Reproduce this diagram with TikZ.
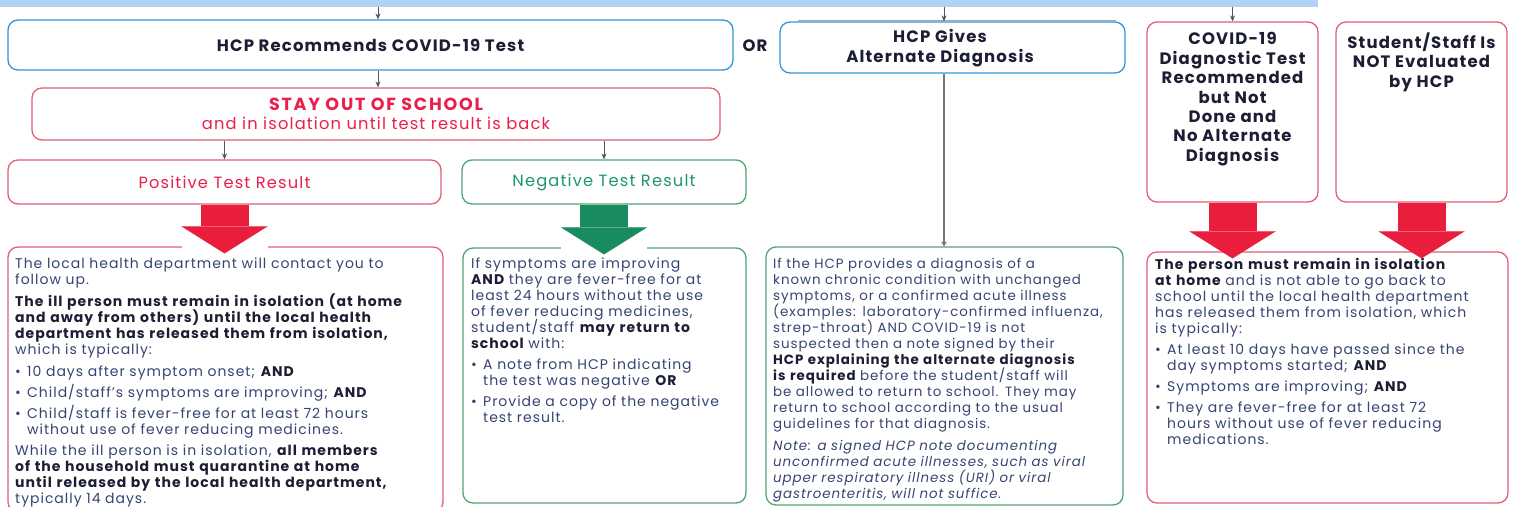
\documentclass[tikz,border=0pt]{standalone}
\usepackage{fontspec}
\setmainfont{Poppins}[LetterSpace=7]
\usetikzlibrary{positioning,arrows.meta}
\definecolor{bandblue}{RGB}{178,210,245}
\definecolor{hcpblue}{RGB}{45,150,225}
\definecolor{boxred}{RGB}{228,95,115}
\definecolor{boxgreen}{RGB}{80,165,115}
\definecolor{arrred}{RGB}{232,30,60}
\definecolor{arrgreen}{RGB}{25,140,95}
\definecolor{txtred}{RGB}{236,30,75}
\definecolor{txtgreen}{RGB}{30,150,115}
\definecolor{inkdark}{RGB}{28,30,52}
\definecolor{inkblue}{RGB}{55,68,115}
\definecolor{conngray}{RGB}{85,85,85}
\newcommand{\bodyfont}[1]{\fontsize{#1}{16}\selectfont\lineskiplimit=-20pt\relax}
\tikzset{
  box/.style={draw, rounded corners=10pt, line width=1.3pt, inner sep=0pt, align=center},
  bluebox/.style={box, draw=hcpblue},
  redbox/.style={box, draw=boxred},
  greenbox/.style={box, draw=boxgreen},
  title/.style={font=\fontsize{16.5}{19.4}\selectfont\bfseries, text=inkdark, align=center, inner sep=0pt},
  heading/.style={font=\fontsize{16.3}{19}\selectfont},
  body/.style={inner sep=0pt, align=left, anchor=north west, text width=440pt, text=inkblue, font=\bodyfont{14}},
  conn/.style={conngray, line width=0.8pt, -{Stealth[length=6pt,width=5pt]}},
  longconn/.style={conngray!80, line width=2pt, -{Stealth[length=5pt,width=6pt]}},
  bigarrow/.style={line width=48pt, -{Triangle[width=86pt,length=27pt,line width=0.01pt]}, shorten >=-7pt},
  arrowback/.style={white, line width=86pt, shorten >=-8pt}
}
\newcommand{\bd}[1]{\textbf{\color{inkdark}#1}}
\newcommand{\bul}{\makebox[12pt][l]{\textbullet}}
\newcommand{\hng}{\hspace*{12pt}}

\begin{document}
\begin{tikzpicture}[x=1pt,y=-1pt]
\useasboundingbox (0,0) rectangle (1514,506);
\fill[white] (0,0) rectangle (1514,506);
% band at the top and column guides
\node[fill=bandblue, inner sep=0pt, minimum width=1318pt, minimum height=7pt, anchor=north west] (band) at (0,0) {};
\coordinate (c1) at (378,0);
\coordinate (c2) at (944,0);
\draw[gray!70, line width=0.8pt] (798,20) -- (1116,20);

% first row
\node[bluebox, minimum width=725pt, minimum height=50pt] (rec) at (370.5,45) {};
\node[title] (rectxt) at (rec) {HCP Recommends COVID-19 Test};
\node[title] (or) at (755,46) {OR};
\node[bluebox, minimum width=345pt, minimum height=51pt] (gives) at (952.5,47.5) {};
\node[title] (givestxt) at (940,48) {HCP Gives\\Alternate Diagnosis};
\node[redbox, minimum width=171pt, minimum height=180pt] (diag) at (1232.5,112) {};
\node[title, below=11pt of diag.north] (diagtxt) {COVID-19\\Diagnostic Test\\Recommended\\but Not\\Done and\\No Alternate\\Diagnosis};
\node[redbox, minimum width=171pt, minimum height=180pt] (eval) at (1421.5,112) {};
\node[title, below=11pt of eval.north] (evaltxt) {Student/Staff Is\\NOT Evaluated\\by HCP};

% test result row
\node[redbox, minimum width=688pt, minimum height=52pt, text=txtred, heading] (stay) at (376,114) {{\fontsize{17.5}{19}\selectfont\addfontfeature{LetterSpace=10}\bfseries STAY OUT OF SCHOOL}\\and in isolation until test result is back};
\node[redbox, minimum width=433pt, minimum height=44pt, text=txtred, heading] (pos) at (224.5,182) {Positive Test Result};
\node[greenbox, minimum width=284pt, minimum height=44pt, text=txtgreen, heading] (neg) at (604,182) {Negative Test Result};

% bottom boxes
\node[redbox, minimum width=435pt, minimum height=265pt] (posinfo) at (225.5,379.5) {};
\node[greenbox, minimum width=283pt, minimum height=255pt] (neginfo) at (604.5,375.5) {};
\node[greenbox, minimum width=357pt, minimum height=258pt] (altinfo) at (944.5,376) {};
\node[redbox, minimum width=361pt, minimum height=251pt] (stayinfo) at (1327.5,377.5) {};

\node[body] (posbody) at (15,258) {The local health department will contact you to\\
follow up.\\[5.5pt]
\bd{The ill person must remain in isolation (at home}\\
\bd{and away from others) until the local health}\\
\bd{department has released them from isolation,}\\
which is typically:\\[6pt]
\bul 10 days after symptom onset; \bd{AND}\\[5pt]
\bul Child/staff's symptoms are improving; \bd{AND}\\[5pt]
\bul Child/staff is fever-free for at least 72 hours\\
\hng without use of fever reducing medicines.\\[5.5pt]
While the ill person is in isolation, \bd{all members}\\
\bd{of the household must quarantine at home}\\
\bd{until released by the local health department,}\\
typically 14 days.};
\node[body] (negbody) at (471,258) {If symptoms are improving\\
\bd{AND} they are fever-free for at\\
least 24 hours without the use\\
of fever reducing medicines,\\
student/staff \bd{may return to}\\
\bd{school} with:\\[5pt]
\bul A note from HCP indicating\\
\hng the test was negative \bd{OR}\\[5pt]
\bul Provide a copy of the negative\\
\hng test result.};
\node[body, font=\bodyfont{13.4}] (altbody) at (773,258) {If the HCP provides a diagnosis of a\\
known chronic condition with unchanged\\
symptoms, or a confirmed acute illness\\
(examples: laboratory-confirmed influenza,\\
strep-throat) AND COVID-19 is not\\
suspected then a note signed by their\\
\bd{HCP explaining the alternate diagnosis}\\
\bd{is required} before the student/staff will\\
be allowed to return to school. They may\\
return to school according to the usual\\
guidelines for that diagnosis.\\[6pt]
\textit{Note: a signed HCP note documenting}\\
\textit{unconfirmed acute illnesses, such as viral}\\
\textit{upper respiratory illness (URI) or viral}\\
\textit{gastroenteritis, will not suffice.}};
\node[body] (staybody) at (1155,258) {\bd{The person must remain in isolation}\\
\bd{at home} and is not able to go back to\\
school until the local health department\\
has released them from isolation, which\\
is typically:\\[5pt]
\bul At least 10 days have passed since the\\
\hng day symptoms started; \bd{AND}\\[5pt]
\bul Symptoms are improving; \bd{AND}\\[5pt]
\bul They are fever-free for at least 72\\
\hng hours without use of fever reducing\\
\hng medications.};

% connectors
\draw[conn] (band.south -| c1) -- (rec.north -| c1);
\draw[conn] (band.south -| c2) -- (gives.north -| c2);
\draw[conn] (band.south -| diag.north) -- (diag.north);
\draw[conn] (rec.south -| c1) -- (stay.north -| c1);
\draw[conn] (stay.south -| pos.north) -- (pos.north);
\draw[conn] (stay.south -| neg.north) -- (neg.north);
\draw[longconn] (gives.south -| c2) -- (altinfo.north -| c2);

% block arrows
\draw[arrowback] (pos.south) -- (pos.south |- posinfo.north);
\draw[bigarrow, arrred] (pos.south) -- (pos.south |- posinfo.north);
\draw[arrowback] (neg.south) -- (neg.south |- neginfo.north);
\draw[bigarrow, arrgreen] (neg.south) -- (neg.south |- neginfo.north);
\draw[bigarrow, arrred] (diag.south) -- (diag.south |- stayinfo.north);
\draw[bigarrow, arrred] (eval.south) -- (eval.south |- stayinfo.north);
\end{tikzpicture}
\end{document}
